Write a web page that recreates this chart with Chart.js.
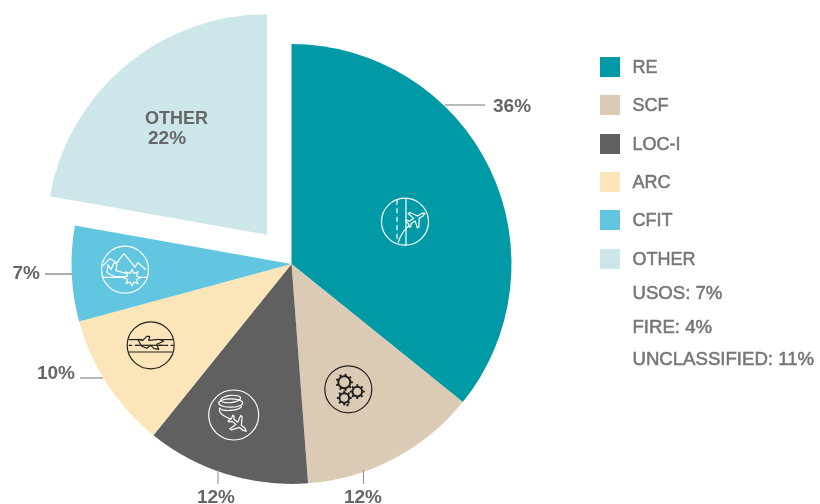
<!DOCTYPE html>
<html>
<head>
<meta charset="utf-8">
<style>html,body{margin:0;padding:0;background:#fff}canvas{display:block}</style>
<script src="https://cdn.jsdelivr.net/npm/chart.js@4/dist/chart.umd.min.js"></script>
</head>
<body>
<canvas id="c" width="820" height="504"></canvas>
<script>
const categories = ['RE', 'SCF', 'LOC-I', 'ARC', 'CFIT', 'OTHER'];
const shares = [35.8, 13, 12, 10, 7, 22.2];
const printedShares = ['36%', '12%', '12%', '10%', '7%', '22%'];
const sliceColors = ['#009aa6', '#dbcbb5', '#606060', '#fce6b9', '#63c6e0', '#cde6ea'];
const otherBreakdown = ['USOS: 7%', 'FIRE: 4%', 'UNCLASSIFIED: 11%'];

const FONT = '"Liberation Sans", Arial, sans-serif';
const legendRows = [67, 105, 144, 182, 220, 259];
const breakdownRows = [292, 326, 358];
const callouts = [
  {i:0, from:[153.5,-159], to:[193.5,-159], text:[201.5,-157], align:'left', color:'#777'},
  {i:1, from:[72,206], to:[72,220], text:[71.5,234], align:'center', color:'#999'},
  {i:2, from:[-73.5,206], to:[-73.5,220], text:[-75.5,234], align:'center', color:'#999'},
  {i:3, from:[-188.5,114], to:[-211.5,114], text:[-216.5,110], align:'right', color:'#888'},
  {i:4, from:[-219.5,10], to:[-246.5,10], text:[-251.5,10], align:'right', color:'#777'}
];

function plane(ctx, x, y, rot, s, fill) {
  const p = [[0,-11],[1.5,-8],[1.5,-3],[9,2],[9,4],[1.5,2],[1.5,7],[4,9],[4,10.5],[0,9.5],[-4,10.5],[-4,9],[-1.5,7],[-1.5,2],[-9,4],[-9,2],[-1.5,-3],[-1.5,-8]];
  ctx.save();
  ctx.translate(x, y); ctx.rotate(rot); ctx.scale(s, s);
  ctx.beginPath();
  p.forEach((q, k) => k ? ctx.lineTo(q[0], q[1]) : ctx.moveTo(q[0], q[1]));
  ctx.closePath();
  ctx.restore();
  ctx.fillStyle = fill; ctx.fill(); ctx.stroke();
}
function line(ctx, pts) {
  ctx.beginPath();
  pts.forEach((q, k) => k ? ctx.lineTo(q[0], q[1]) : ctx.moveTo(q[0], q[1]));
  ctx.stroke();
}
function gear(ctx, x, y, r, teeth) {
  ctx.beginPath(); ctx.arc(x, y, r, 0, Math.PI * 2); ctx.stroke();
  for (let k = 0; k < teeth; k++) {
    const a = k / teeth * Math.PI * 2;
    ctx.beginPath();
    ctx.moveTo(x + Math.cos(a) * r, y + Math.sin(a) * r);
    ctx.lineTo(x + Math.cos(a) * (r + 2.6), y + Math.sin(a) * (r + 2.6));
    ctx.stroke();
  }
}
const icons = [
  {dx:113.5, dy:-42.3, r:23.5, color:'#fff', draw(c, f){
    line(c, [[1,-23.5],[1,23.5]]);
    c.setLineDash([5,3.5]); line(c, [[-8,-22],[-8,20]]); c.setLineDash([]);
    c.beginPath(); c.moveTo(-7,21); c.quadraticCurveTo(-3,8,7,2); c.stroke();
    plane(c, 11, -3, Math.PI*0.32, 0.95, f);
  }},
  {dx:56.8, dy:125.3, r:23.5, color:'#222', draw(c){
    c.lineWidth = 2;
    gear(c, -4, -7, 6, 9); gear(c, 9, 2.3, 4.8, 8); gear(c, -4, 8.7, 4.8, 8);
    c.beginPath(); c.arc(-0.7, 15.7, 1.2, 0, Math.PI*2); c.fillStyle='#222'; c.fill();
  }},
  {dx:-57.8, dy:151, r:25, color:'#fff', draw(c, f){
    c.beginPath(); c.ellipse(-3, -16, 10, 3.6, -0.1, 0, Math.PI*2); c.stroke();
    c.beginPath(); c.ellipse(-3, -12, 12, 4.2, 0, 0, Math.PI*2); c.stroke();
    c.beginPath(); c.moveTo(8,-9); c.bezierCurveTo(6,-4,-12,-3,-14,-7);
    c.bezierCurveTo(-16,-1,-8,2,-1,5); c.stroke();
    plane(c, 4.5, 9.5, Math.PI*0.72, 0.95, f);
  }},
  {dx:-140.8, dy:81.3, r:23.5, color:'#222', draw(c, f){
    line(c, [[-22,-5.7],[-8,-5.7]]); line(c, [[8,-5.7],[22,-5.7]]);
    line(c, [[-22,6.7],[22,6.7]]);
    c.setLineDash([3.5,2.5]); line(c, [[-22,0],[23,0]]); c.setLineDash([]);
    c.beginPath();
    c.moveTo(-13,-6); c.lineTo(-8,-5); c.lineTo(-4,-9); c.lineTo(-1,-9); c.lineTo(-2,-5);
    c.lineTo(8,-6); c.lineTo(13,-4); c.lineTo(6,-1); c.lineTo(8,4); c.lineTo(3,3);
    c.lineTo(0,0); c.lineTo(-4,3); c.lineTo(-9,1); c.closePath();
    c.fillStyle = f; c.fill(); c.stroke();
    line(c, [[-14,0],[14,0]]);
  }},
  {dx:-166.5, dy:5.7, r:23.5, color:'#fff', draw(c, f){
    line(c, [[-22,-4],[-15,-11],[-8,-7],[-1,-16],[10,-2.5],[13,-7],[21,0]]);
    line(c, [[-23,7.6],[23,7.6]]);
    c.beginPath();
    c.moveTo(-17,-5); c.lineTo(-14,0); c.lineTo(-11,-7); c.lineTo(-8,-6); c.lineTo(-9,1);
    c.lineTo(2,4); c.lineTo(3,7); c.lineTo(-10,7); c.lineTo(-18,3); c.closePath();
    c.fillStyle = f; c.fill(); c.stroke();
    const b = [];
    for (let k = 0; k < 16; k++) {
      const a = k / 16 * Math.PI * 2, rr = k % 2 ? 4.6 : 8.5;
      b.push([7 + Math.cos(a) * rr, 8 + Math.sin(a) * rr]);
    }
    c.beginPath();
    b.forEach((q, k) => k ? c.lineTo(q[0], q[1]) : c.moveTo(q[0], q[1]));
    c.closePath(); c.fillStyle = f; c.fill(); c.stroke();
  }}
];

function medium(ctx, text, x, y) {
  ctx.lineWidth = 0.55;
  ctx.strokeStyle = ctx.fillStyle;
  ctx.fillText(text, x, y);
  ctx.strokeText(text, x, y);
}

const annotate = {
  id: 'annotate',
  afterDraw(chart) {
    const ctx = chart.ctx;
    const arcs = chart.getDatasetMeta(0).data;
    const cx = arcs[0].x, cy = arcs[0].y;
    ctx.save();

    icons.forEach((ic, i) => {
      ctx.save();
      ctx.translate(cx + ic.dx, cy + ic.dy);
      ctx.strokeStyle = ic.color;
      ctx.lineWidth = 1.2;
      ctx.lineJoin = 'round';
      ctx.beginPath(); ctx.arc(0, 0, ic.r, 0, Math.PI * 2); ctx.stroke();
      ic.draw(ctx, sliceColors[i]);
      ctx.restore();
    });

    callouts.forEach(k => {
      ctx.strokeStyle = k.color;
      ctx.lineWidth = 1.2;
      ctx.beginPath();
      ctx.moveTo(cx + k.from[0], cy + k.from[1]);
      ctx.lineTo(cx + k.to[0], cy + k.to[1]);
      ctx.stroke();
      ctx.font = 'bold 19px ' + FONT;
      ctx.fillStyle = '#666';
      ctx.textAlign = k.align;
      ctx.textBaseline = 'middle';
      ctx.fillText(printedShares[k.i], cx + k.text[0], cy + k.text[1]);
    });

    ctx.font = 'bold 18px ' + FONT;
    ctx.fillStyle = '#666';
    ctx.textAlign = 'left';
    ctx.textBaseline = 'middle';
    ctx.fillText(categories[5], cx - 146.5, cy - 145);
    ctx.font = 'bold 19px ' + FONT;
    ctx.fillText(printedShares[5], cx - 143.5, cy - 125);

    ctx.font = '18px ' + FONT;
    categories.forEach((name, i) => {
      ctx.fillStyle = sliceColors[i];
      ctx.fillRect(600, legendRows[i] - 10, 20, 20);
      ctx.fillStyle = '#777';
      medium(ctx, name, 632.5, legendRows[i] + 1.5);
    });
    ctx.font = '18.6px ' + FONT;
    otherBreakdown.forEach((t, i) => {
      ctx.fillStyle = '#777';
      medium(ctx, t, 632.5, breakdownRows[i] + 1.5);
    });
    ctx.restore();
  }
};

new Chart(document.getElementById('c'), {
  type: 'pie',
  data: {
    labels: categories,
    datasets: [{
      data: shares,
      backgroundColor: sliceColors,
      borderWidth: 0,
      offset: [0, 0, 0, 0, 0, 152]
    }]
  },
  options: {
    responsive: false,
    animation: false,
    events: [],
    radius: 220,
    layout: { padding: { left: 0, right: 237, top: 24, bottom: 0 } },
    plugins: { legend: { display: false }, tooltip: { enabled: false } }
  },
  plugins: [annotate]
});
</script>
</body>
</html>
